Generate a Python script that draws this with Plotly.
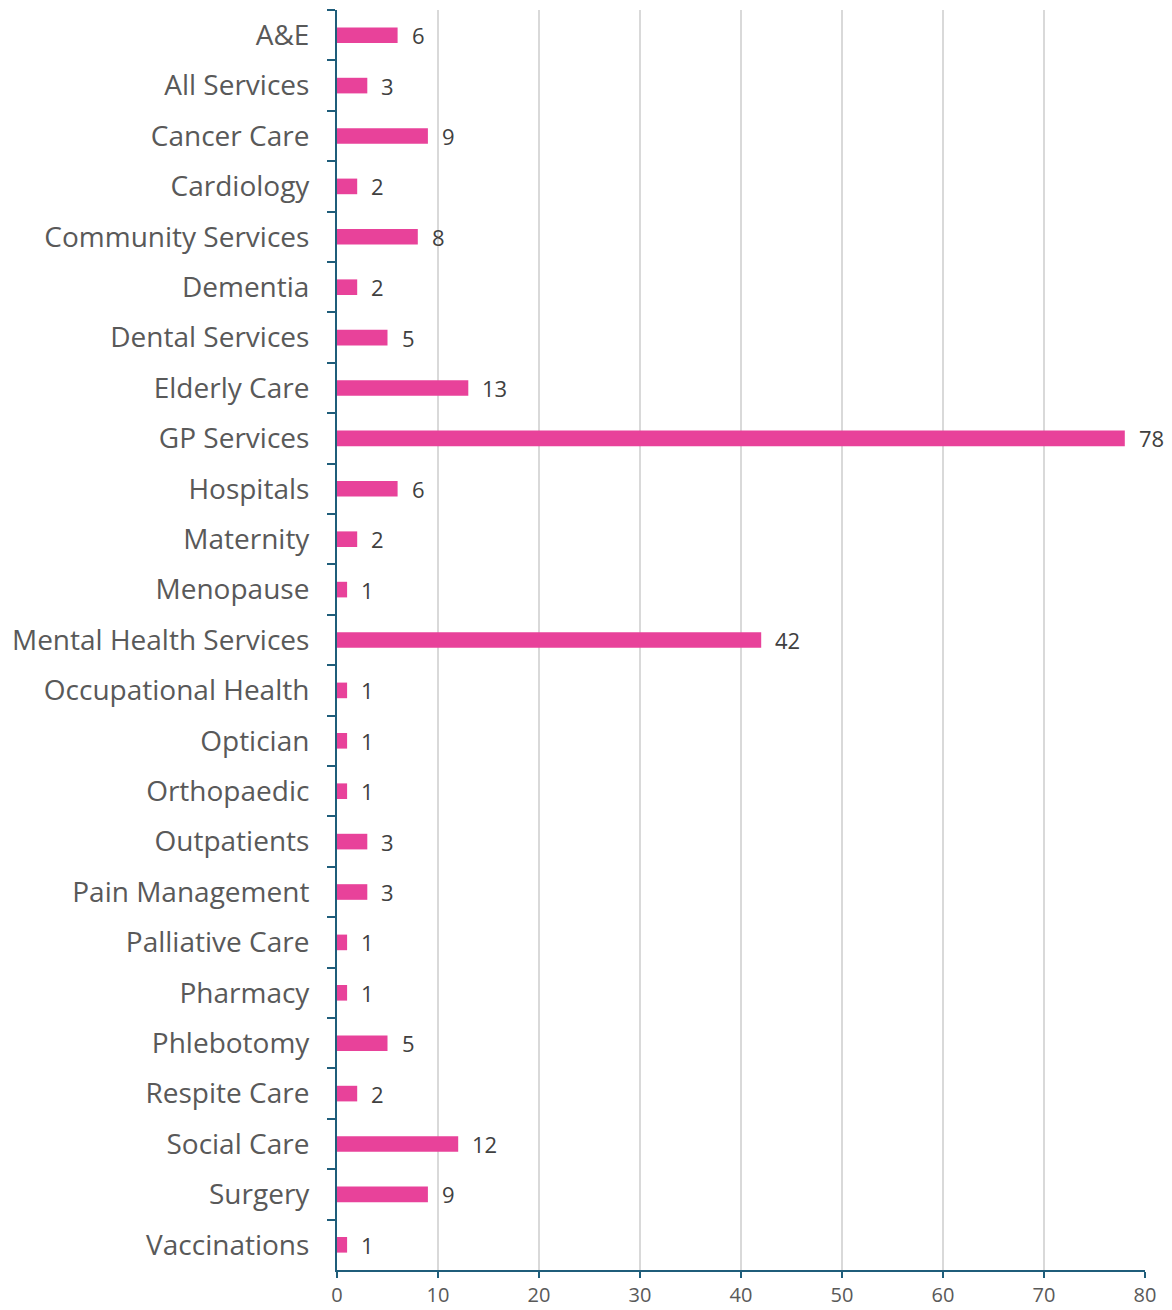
import plotly.graph_objects as go

categories = ["A&E", "All Services", "Cancer Care", "Cardiology", "Community Services",
              "Dementia", "Dental Services", "Elderly Care", "GP Services", "Hospitals",
              "Maternity", "Menopause", "Mental Health Services", "Occupational Health",
              "Optician", "Orthopaedic", "Outpatients", "Pain Management", "Palliative Care",
              "Pharmacy", "Phlebotomy", "Respite Care", "Social Care", "Surgery", "Vaccinations"]
values = [6, 3, 9, 2, 8, 2, 5, 13, 78, 6, 2, 1, 42, 1, 1, 1, 3, 3, 1, 1, 5, 2, 12, 9, 1]
x_ticks = [0, 10, 20, 30, 40, 50, 60, 70, 80]

AXIS = "#1F5D7A"
BAR = "#E8429A"
TXT = "#595959"
FONT = "Open Sans"

fig = go.Figure()
fig.add_trace(go.Bar(
    y=categories, x=values, orientation="h",
    marker=dict(color=BAR, line=dict(width=0)),
    width=0.31,
    hoverinfo="x+y",
))

for c, v in zip(categories, values):
    fig.add_annotation(x=v, y=c, text=str(v), showarrow=False,
                       xanchor="left", xshift=12,
                       font=dict(family=FONT, size=22, color="#404040"))

fig.update_layout(
    width=1164, height=1302,
    margin=dict(l=329, r=27, t=2, b=40),
    paper_bgcolor="white", plot_bgcolor="white",
    showlegend=False,
    font=dict(family=FONT, color=TXT),
)
fig.update_xaxes(
    range=[0, 80], tickvals=x_ticks, ticktext=[str(t) for t in x_ticks],
    showgrid=True, gridcolor="#D9D9D9", gridwidth=2,
    showline=True, linecolor=AXIS, linewidth=2,
    ticks="outside", ticklen=6, tickwidth=2, tickcolor=AXIS,
    tickfont=dict(family=FONT, size=20, color=TXT),
    ticklabelstandoff=0,
    zeroline=False, mirror=False, automargin=False,
)
fig.update_yaxes(
    autorange="reversed", type="category",
    showline=True, linecolor=AXIS, linewidth=2,
    ticks="outside", ticklen=8, tickwidth=2, tickcolor=AXIS,
    tickson="boundaries",
    tickfont=dict(family=FONT, size=28, color=TXT),
    ticklabelstandoff=20,
    showgrid=False, zeroline=False, automargin=False,
)

fig.write_html("out.html")
